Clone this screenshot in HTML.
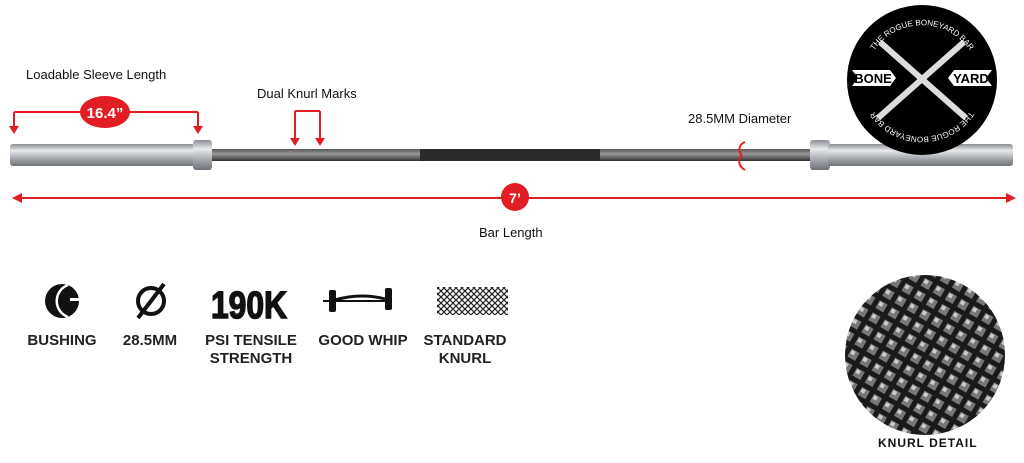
<!DOCTYPE html>
<html><head><meta charset="utf-8"><style>
body{margin:0;width:1024px;height:463px;background:#fff;overflow:hidden;position:relative;font-family:"Liberation Sans",sans-serif}
.t{position:absolute;font-size:13px;color:#111;white-space:nowrap}
.lab{position:absolute;font-weight:bold;font-size:15px;color:#222;text-align:center;line-height:18px;width:110px}
</style></head><body>
<svg width="1024" height="463" style="position:absolute;left:0;top:0">
<defs>
<linearGradient id="sl" x1="0" y1="0" x2="0" y2="1"><stop offset="0" stop-color="#8a8d92"/><stop offset=".3" stop-color="#e8eaec"/><stop offset=".55" stop-color="#b8bcc0"/><stop offset="1" stop-color="#6e7278"/></linearGradient>
<linearGradient id="sh" x1="0" y1="0" x2="0" y2="1"><stop offset="0" stop-color="#555"/><stop offset=".4" stop-color="#999"/><stop offset="1" stop-color="#333"/></linearGradient>
<pattern id="kn" width="6" height="6" patternUnits="userSpaceOnUse"><rect width="6" height="6" fill="#fff"/><path d="M0 0L6 6M6 0L0 6" stroke="#222" stroke-width="1.2"/></pattern>
<pattern id="kd" width="14" height="14" patternUnits="userSpaceOnUse" patternTransform="rotate(30)"><rect width="14" height="14" fill="#1a1a1a"/><rect x="2" y="2" width="9" height="9" fill="#777"/><rect x="3" y="3" width="4" height="4" fill="#ccc"/></pattern>
</defs>
<rect x="210" y="149" width="602" height="12" fill="url(#sh)"/>
<rect x="420" y="149" width="180" height="12" fill="#2a2a2a"/>
<rect x="10" y="144" width="185" height="22" rx="3" fill="url(#sl)"/>
<rect x="193" y="140" width="19" height="30" rx="3" fill="url(#sl)"/>
<rect x="810" y="140" width="20" height="30" rx="3" fill="url(#sl)"/>
<rect x="828" y="144" width="185" height="22" rx="3" fill="url(#sl)"/>
<g stroke="#e21d24" stroke-width="2" fill="none">
<path d="M14 112H198M14 112V128M198 112V128"/>
<path d="M295 111H320M295 111V140M320 111V140"/>
<line x1="20" y1="198" x2="1008" y2="198"/>
</g>
<g fill="#e21d24">
<path d="M9 126L19 126L14 134z"/><path d="M193 126L203 126L198 134z"/>
<path d="M290 138L300 138L295 146z"/><path d="M315 138L325 138L320 146z"/>
<path d="M12 198L22 193L22 203z"/><path d="M1016 198L1006 193L1006 203z"/>
<ellipse cx="105" cy="112" rx="25" ry="16"/>
<ellipse cx="515" cy="197" rx="14" ry="14"/>
</g>
<path d="M745 142C738 145 738 152 742 155M742 155C738 160 738 166 745 170" stroke="#e21d24" stroke-width="2" fill="none"/>
<text x="105" y="118" font-size="15" font-weight="bold" fill="#fff" text-anchor="middle" font-family="Liberation Sans">16.4”</text>
<text x="515" y="203" font-size="14" font-weight="bold" fill="#fff" text-anchor="middle" font-family="Liberation Sans">7’</text>
<circle cx="922" cy="80" r="75" fill="#000"/>
<path d="M880 42L966 118M964 42L878 118" stroke="#ddd" stroke-width="6"/>
<path d="M852 70H890L896 78L890 86H852L858 78z" fill="#fff"/>
<path d="M954 70H992L986 78L992 86H954L948 78z" fill="#fff"/>
<text x="873" y="83" font-size="13" font-weight="bold" text-anchor="middle" font-family="Liberation Sans">BONE</text>
<text x="971" y="83" font-size="13" font-weight="bold" text-anchor="middle" font-family="Liberation Sans">YARD</text>
<path id="arc1" d="M868 62A58 58 0 0 1 976 62" fill="none"/>
<text font-size="8" fill="#fff" font-family="Liberation Sans"><textPath href="#arc1" startOffset="50%" text-anchor="middle">THE ROGUE BONEYARD BAR</textPath></text>
<path id="arc2" d="M976 100A58 58 0 0 1 868 100" fill="none"/>
<text font-size="8" fill="#fff" font-family="Liberation Sans"><textPath href="#arc2" startOffset="50%" text-anchor="middle">THE ROGUE BONEYARD BAR</textPath></text>
<circle cx="62" cy="301" r="17" fill="#111"/>
<path d="M62 285A17 17 0 0 0 62 317" stroke="#fff" stroke-width="2.5" fill="none" transform="translate(6 0)"/>
<rect x="70" y="298" width="12" height="3" fill="#fff"/>
<circle cx="151" cy="301" r="13" fill="none" stroke="#111" stroke-width="4"/><line x1="138" y1="318" x2="164" y2="284" stroke="#111" stroke-width="4"/>
<text x="249" y="318" font-size="38" font-weight="bold" text-anchor="middle" font-family="Liberation Sans" textLength="76" lengthAdjust="spacingAndGlyphs" fill="#111" stroke="#111" stroke-width="1.5">190K</text>
<path d="M323 301H390" stroke="#111" stroke-width="2"/><path d="M335 300Q362 292 389 300" stroke="#111" stroke-width="3" fill="none"/>
<rect x="329" y="290" width="7" height="22" rx="2" fill="#111"/><rect x="385" y="288" width="7" height="22" rx="2" fill="#111"/>
<rect x="437" y="287" width="71" height="28" fill="url(#kn)"/>
<circle cx="925" cy="355" r="80" fill="url(#kd)"/>
</svg>
<div class="t" style="left:26px;top:67px">Loadable Sleeve Length</div>
<div class="t" style="left:257px;top:86px">Dual Knurl Marks</div>
<div class="t" style="left:688px;top:111px">28.5MM Diameter</div>
<div class="t" style="left:479px;top:225px">Bar Length</div>
<div class="lab" style="left:7px;top:332px">BUSHING</div>
<div class="lab" style="left:95px;top:332px">28.5MM</div>
<div class="lab" style="left:196px;top:332px">PSI TENSILE<br>STRENGTH</div>
<div class="lab" style="left:308px;top:332px">GOOD WHIP</div>
<div class="lab" style="left:410px;top:332px">STANDARD<br>KNURL</div>
<div class="t" style="left:878px;top:436px;font-weight:bold;font-size:12px;letter-spacing:1px">KNURL DETAIL</div>
</body></html>
